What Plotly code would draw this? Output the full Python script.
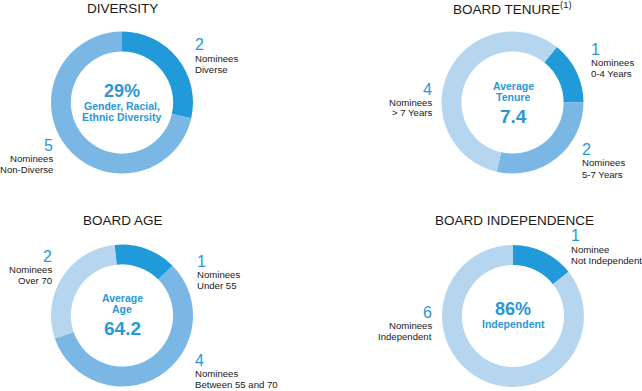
import plotly.graph_objects as go

W, H = 642, 391

# ---- data ----
titles = ["DIVERSITY", "BOARD TENURE<sup>(1)</sup>", "BOARD AGE", "BOARD INDEPENDENCE"]

diversity_labels = ["Diverse", "Non-Diverse"]
diversity_values = [2, 5]

tenure_labels = ["0-4 Years", "5-7 Years", "> 7 Years"]
tenure_values = [1, 2, 4]

age_labels = ["Under 55", "Between 55 and 70", "Over 70"]
age_values = [1, 4, 2]

indep_labels = ["Not Independent", "Independent"]
indep_values = [1, 6]

diversity_pct = "29%"
avg_tenure = "7.4"
avg_age = "64.2"
indep_pct = "86%"

DARK = "#219ADA"
MED = "#7AB7E5"
LIGHT = "#B6D6F0"
BLUE_TXT = "#2A98D6"
BLACK = "#1a1a1a"
FONT = "Liberation Sans, Arial, sans-serif"

R = 71
HOLE = 0.72


def dom(cx, cy):
    return dict(x=[(cx - R) / W, (cx + R) / W], y=[1 - (cy + R) / H, 1 - (cy - R) / H])


fig = go.Figure()
pies = [
    (diversity_labels, diversity_values, [DARK, MED], 0, (122, 102.5)),
    (tenure_labels, tenure_values, [DARK, MED, LIGHT], 38.6, (512.5, 102.5)),
    (age_labels, age_values, [DARK, MED, LIGHT], -6, (122, 315.5)),
    (indep_labels, indep_values, [DARK, LIGHT], 0, (513, 316)),
]
for labels, values, colors, rot, (cx, cy) in pies:
    fig.add_trace(go.Pie(
        labels=labels, values=values, hole=HOLE, sort=False, direction="clockwise",
        rotation=rot, marker=dict(colors=colors, line=dict(width=0)),
        textinfo="none", hoverinfo="skip", showlegend=False, domain=dom(cx, cy),
    ))

ann = []


def txt(text, x, y, anchor="left", size=9.6, color=BLACK, bold=False):
    if bold:
        text = "<b>" + text + "</b>"
    ann.append(dict(text=text, x=x / W, y=1 - y / H, xref="paper", yref="paper",
                    xanchor=anchor, yanchor="middle", showarrow=False,
                    font=dict(family=FONT, size=size, color=color)))


def side(num, lines, x, y, anchor, nom="Nominees"):
    txt(str(num), x, y, anchor, size=16, color=BLUE_TXT)
    txt(nom, x, y + 13, anchor)
    txt(lines, x, y + 24, anchor)


# titles
txt(titles[0], 122, 8, "center", size=13.5)
txt(titles[1], 512, 8, "center", size=13.5)
txt(titles[2], 123, 220, "center", size=13.5)
txt(titles[3], 514, 220, "center", size=13.5)

# diversity
side(diversity_values[0], diversity_labels[0], 193, 45, "left")
side(diversity_values[1], diversity_labels[1], 55, 145, "right")
txt(diversity_pct, 122, 91, "center", size=18, color=BLUE_TXT, bold=True)
txt("Gender, Racial,", 122, 106, "center", size=10.5, color=BLUE_TXT, bold=True)
txt("Ethnic Diversity", 122, 117, "center", size=10.5, color=BLUE_TXT, bold=True)

# tenure
side(tenure_values[0], tenure_labels[0], 589, 49, "left")
side(tenure_values[1], tenure_labels[1], 580, 150, "left")
side(tenure_values[2], tenure_labels[2], 434, 89, "right")
txt("Average", 513, 86, "center", size=10.5, color=BLUE_TXT, bold=True)
txt("Tenure", 513, 97, "center", size=10.5, color=BLUE_TXT, bold=True)
txt(avg_tenure, 513, 116, "center", size=19, color=BLUE_TXT, bold=True)

# age
side(age_values[2], age_labels[2], 54, 256, "right")
side(age_values[0], age_labels[0], 195, 261, "left")
side(age_values[1], age_labels[1], 193, 360, "left")
txt("Average", 122, 298, "center", size=10.5, color=BLUE_TXT, bold=True)
txt("Age", 122, 309, "center", size=10.5, color=BLUE_TXT, bold=True)
txt(avg_age, 122, 328, "center", size=19, color=BLUE_TXT, bold=True)

# independence
side(indep_values[0], indep_labels[0], 569, 236, "left", nom="Nominee")
side(indep_values[1], indep_labels[1], 434, 312, "right")
txt(indep_pct, 513, 309, "center", size=18, color=BLUE_TXT, bold=True)
txt("Independent", 513, 324, "center", size=10.5, color=BLUE_TXT, bold=True)

fig.update_layout(width=W, height=H, margin=dict(l=0, r=0, t=0, b=0),
                  paper_bgcolor="white", plot_bgcolor="white",
                  annotations=ann, font=dict(family=FONT))
fig.write_html("out.html", config={"displayModeBar": False},
               post_script="document.body.style.margin='0';document.body.style.padding='0';")
